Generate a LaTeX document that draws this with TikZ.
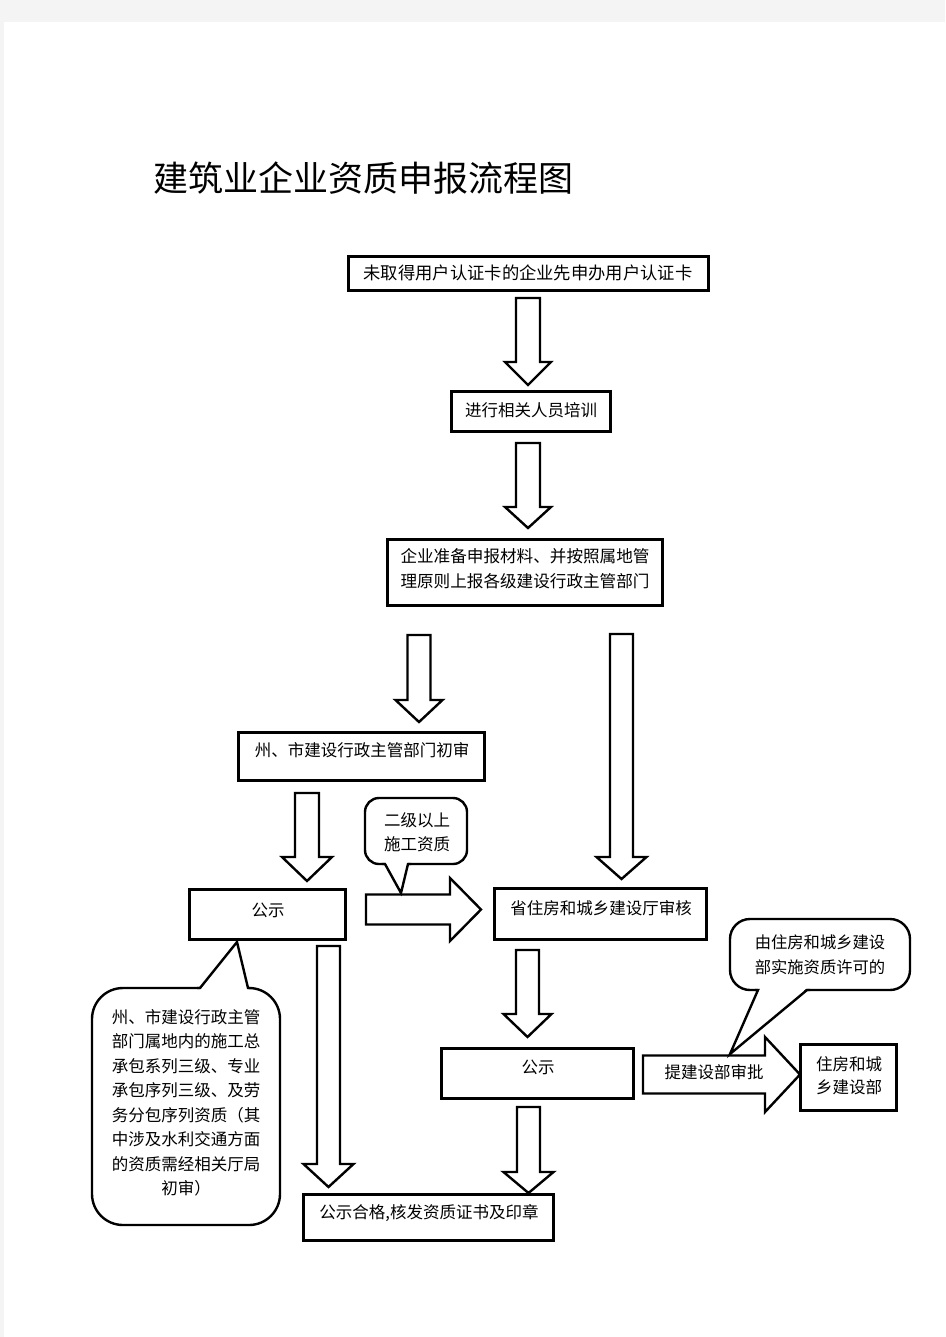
\documentclass[tikz,border=0pt]{standalone}
\usepackage{fontspec}
\newfontfamily\cjk{Noto Sans CJK SC}
\definecolor{pagebg}{HTML}{F4F4F4}
\newcommand{\blkdown}[6]{% cx, ytop, yhead, ytip, halfshaft, halfhead
  \draw[blk] ({#1-#5},#2) -- ({#1+#5},#2) -- ({#1+#5},#3) -- ({#1+#6},#3) -- (#1,#4)
    -- ({#1-#6},#3) -- ({#1-#5},#3) -- cycle;}
\newcommand{\blkright}[6]{% cy, xleft, xhead, xtip, halfshaft, halfhead
  \draw[blk] (#2,{#1-#5}) -- (#3,{#1-#5}) -- (#3,{#1-#6}) -- (#4,#1) -- (#3,{#1+#6})
    -- (#3,{#1+#5}) -- (#2,{#1+#5}) -- cycle;}
\begin{document}
\begin{tikzpicture}[x=1pt,y=-1pt,
  box/.style={draw, line width=2.6pt, inner sep=0pt, fill=white},
  blk/.style={draw, line width=2.4pt, fill=white, line join=miter},
  callout/.style={draw, line width=2.4pt, fill=white},
  ptr/.style={draw, line width=2.4pt, line join=miter},
  txt/.style={font=\cjk\fontsize{16.5}{24.5}\selectfont, inner sep=0pt, align=center},
  ttl/.style={font=\cjk\fontsize{35}{40}\selectfont, inner sep=0pt}]
\useasboundingbox (0,0) rectangle (945,1337);
\fill[pagebg] (0,0) rectangle (945,1337);
\fill[white] (4,22) rectangle (945,1337);

% title
\node[ttl] (title) at (363,178) {建筑业企业资质申报流程图};

% boxes
\node[box, minimum width=360pt, minimum height=34pt] (b1) at (528.5,273.5) {};
\node[box, minimum width=159pt, minimum height=40pt] (b2) at (531,411.5) {};
\node[box, minimum width=275pt, minimum height=66pt] (b3) at (525,572.5) {};
\node[box, minimum width=246pt, minimum height=48pt] (b4) at (361.5,756.5) {};
\node[box, minimum width=156pt, minimum height=50pt] (b5) at (267.5,914.5) {};
\node[box, minimum width=212pt, minimum height=51pt] (b6) at (600.5,914) {};
\node[box, minimum width=192pt, minimum height=50pt] (b7) at (537.5,1073.5) {};
\node[box, minimum width=96pt, minimum height=66pt] (b8) at (848.5,1077.5) {};
\node[box, minimum width=250pt, minimum height=46pt] (b9) at (428.5,1217.5) {};

% box texts
\node[txt, font=\cjk\fontsize{17.3}{24}\selectfont] (t1) at (528,273) {未取得用户认证卡的企业先申办用户认证卡};
\node[txt] (t2) at (531,410) {进行相关人员培训};
\node[txt, font=\cjk\fontsize{16.6}{25}\selectfont] (t3) at (525,568.5) {企业准备申报材料、并按照属地管\\理原则上报各级建设行政主管部门};
\node[txt] (t4) at (362,750) {州、市建设行政主管部门初审};
\node[txt] (t5) at (268,910) {公示};
\node[txt] (t6) at (601,908) {省住房和城乡建设厅审核};
\node[txt] (t7) at (538,1067) {公示};
\node[txt, font=\cjk\fontsize{16.5}{23}\selectfont] (t8) at (849,1075.5) {住房和城\\乡建设部};
\node[txt] (t9) at (429,1213) {公示合格,核发资质证书及印章};

% vertical block arrows
\blkdown{528}{298}{362}{385}{12}{23}
\blkdown{528}{443}{507}{528}{12}{23}
\blkdown{419}{635}{700}{722}{11.5}{23.5}
\blkdown{621.5}{634}{857}{879}{11.5}{25}
\blkdown{307}{793}{857}{881}{12}{25}
\blkdown{328.5}{946}{1164}{1187}{11.5}{25}
\blkdown{527.5}{950}{1014}{1037}{11.5}{24}
\blkdown{528.5}{1107}{1172}{1193}{11.5}{25}

% horizontal block arrows
\blkright{909.5}{366}{450}{481}{15}{31.5}
\blkright{1074.5}{643}{765}{800}{19}{37.5}
\node[txt] (t12) at (714,1072) {提建设部审批};

% callout: 二级以上施工资质
\draw[callout, rounded corners=14pt] (365,798) rectangle (467,864);
\fill[white] (385,862) -- (401,893) -- (408,862) -- cycle;
\draw[ptr] (382,864) -- (385,864) -- (401,893) -- (408,864) -- (411,864);
\node[txt, font=\cjk\fontsize{16.5}{24}\selectfont] (t10) at (417,832) {二级以上\\施工资质};

% callout: 由住房和城乡建设部实施资质许可的
\draw[callout, rounded corners=20pt] (730,919) rectangle (910,990);
\fill[white] (758,988) -- (730,1054) -- (807,988) -- cycle;
\draw[ptr] (755,990) -- (758,990) -- (730,1054) -- (807,990) -- (810,990);
\node[txt, font=\cjk\fontsize{16.3}{25}\selectfont] (t11) at (820,954.5) {由住房和城乡建设\\部实施资质许可的};

% callout: left note
\draw[callout, rounded corners=31pt] (92,988) rectangle (280,1225);
\fill[white] (200,990) -- (237,942) -- (248,990) -- cycle;
\draw[ptr] (197,988) -- (200,988) -- (237,942) -- (248,988) -- (250,988);
\node[txt] (t13) at (186,1103) {州、市建设行政主管\\部门属地内的施工总\\承包系列三级、专业\\承包序列三级、及劳\\务分包序列资质（其\\中涉及水利交通方面\\的资质需经相关厅局\\初审）};
\end{tikzpicture}
\end{document}
